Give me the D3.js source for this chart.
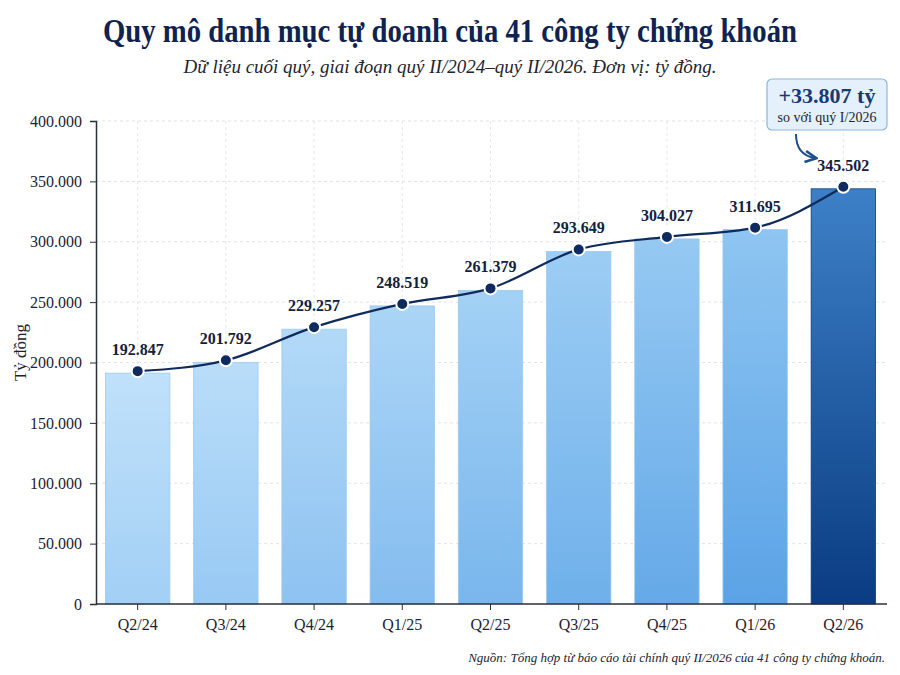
<!DOCTYPE html>
<html>
<head>
<meta charset="utf-8">
<script src="https://cdn.jsdelivr.net/npm/d3@7"></script>
<style>
  body { margin: 0; background: #fff; }
  svg { display: block; }
</style>
</head>
<body>
<svg id="chart" width="900" height="675"></svg>
<script>
const quarters = ["Q2/24", "Q3/24", "Q4/24", "Q1/25", "Q2/25", "Q3/25", "Q4/25", "Q1/26", "Q2/26"];
const portfolio = [192847, 201792, 229257, 248519, 261379, 293649, 304027, 311695, 345502];
const yTicks = [0, 50000, 100000, 150000, 200000, 250000, 300000, 350000, 400000];
const changeLabel = "+33.807 tỷ";
const changeNote = "so với quý I/2026";

const plotLeft = 96, plotRight = 887, plotTop = 121, plotBottom = 604;
const serif = "'Liberation Serif', 'DejaVu Serif', serif";
const navy = "#0f2350";

// 192.847 style
const fmt = v => d3.format(",")(v).replace(/,/g, ".");

const svg = d3.select("#chart");
const defs = svg.append("defs");

const x = d3.scaleBand()
  .domain(quarters)
  .range([94, plotRight])
  .paddingInner(0.27)
  .paddingOuter(0.13);

const y = d3.scaleLinear()
  .domain([0, 400000])
  .range([plotBottom, plotTop]);

// light -> mid blue for the older quarters, dark for the last one
const shadeTop = d3.scaleLinear()
  .domain([0, quarters.length - 2])
  .range(["#c0e1fa", "#8ec5f1"]);
const shadeBottom = d3.scaleLinear()
  .domain([0, quarters.length - 2])
  .range(["#a2cff5", "#5ba3e6"]);

quarters.forEach((q, i) => {
  const last = i === quarters.length - 1;
  const g = defs.append("linearGradient")
    .attr("id", "bar" + i)
    .attr("x1", 0).attr("y1", 0).attr("x2", 0).attr("y2", 1);
  g.append("stop").attr("offset", "0%").attr("stop-color", last ? "#3d80c7" : shadeTop(i));
  g.append("stop").attr("offset", "100%").attr("stop-color", last ? "#0a3c82" : shadeBottom(i));
});

// grid
svg.append("g")
  .selectAll("line")
  .data(yTicks.slice(1))
  .join("line")
  .attr("x1", plotLeft).attr("x2", plotRight)
  .attr("y1", d => y(d)).attr("y2", d => y(d))
  .attr("stroke", "#dfe3ea")
  .attr("stroke-dasharray", "3,3");

svg.append("g")
  .selectAll("line")
  .data(quarters)
  .join("line")
  .attr("x1", d => x(d) + x.bandwidth() / 2)
  .attr("x2", d => x(d) + x.bandwidth() / 2)
  .attr("y1", plotTop).attr("y2", plotBottom)
  .attr("stroke", "#e4e7ed")
  .attr("stroke-dasharray", "3,3");

// bars
svg.append("g")
  .selectAll("rect")
  .data(portfolio)
  .join("rect")
  .attr("x", (d, i) => x(quarters[i]))
  .attr("y", d => y(d) + 2)
  .attr("width", x.bandwidth())
  .attr("height", d => plotBottom - y(d) - 2)
  .attr("fill", (d, i) => `url(#bar${i})`)
  .attr("stroke", (d, i) => i === quarters.length - 1 ? "#0c3d7c" : "#9cc9ee")
  .attr("stroke-width", 0.8);

// axes
const yAxis = svg.append("g")
  .attr("transform", `translate(${plotLeft},0)`)
  .call(d3.axisLeft(y).tickValues(yTicks).tickFormat(fmt).tickSize(6).tickPadding(8));
yAxis.select(".domain").attr("stroke", "#2b2f3a").attr("stroke-width", 1.5);
yAxis.selectAll(".tick line").attr("stroke", "#2b2f3a");
yAxis.selectAll("text")
  .attr("font-family", serif)
  .attr("font-size", 16)
  .attr("fill", "#1d2230");

const xAxis = svg.append("g")
  .attr("transform", `translate(0,${plotBottom})`)
  .call(d3.axisBottom(x).tickSize(6).tickPadding(9).tickSizeOuter(0));
xAxis.select(".domain").attr("stroke", "#2b2f3a").attr("stroke-width", 1.5)
  .attr("d", `M${plotLeft},0H${plotRight}`);
xAxis.selectAll(".tick line").attr("stroke", "#2b2f3a");
xAxis.selectAll("text")
  .attr("font-family", serif)
  .attr("font-size", 16)
  .attr("fill", "#1d2230");

svg.append("text")
  .attr("transform", `translate(26,${(plotTop + plotBottom) / 2 - 10}) rotate(-90)`)
  .attr("text-anchor", "middle")
  .attr("font-family", serif)
  .attr("font-size", 17)
  .attr("fill", "#1d2230")
  .text("Tỷ đồng");

// line + dots
const cx = i => x(quarters[i]) + x.bandwidth() / 2;
const line = d3.line()
  .x((d, i) => cx(i))
  .y(d => y(d))
  .curve(d3.curveMonotoneX);

svg.append("path")
  .datum(portfolio)
  .attr("d", line)
  .attr("fill", "none")
  .attr("stroke", "#112a5c")
  .attr("stroke-width", 2.2);

svg.append("g")
  .selectAll("circle")
  .data(portfolio)
  .join("circle")
  .attr("cx", (d, i) => cx(i))
  .attr("cy", d => y(d))
  .attr("r", 6)
  .attr("fill", "#0e2a5e")
  .attr("stroke", "#fff")
  .attr("stroke-width", 2);

svg.append("g")
  .selectAll("text")
  .data(portfolio)
  .join("text")
  .attr("x", (d, i) => cx(i))
  .attr("y", d => y(d) - 16)
  .attr("text-anchor", "middle")
  .attr("font-family", serif)
  .attr("font-weight", "bold")
  .attr("font-size", 16)
  .attr("fill", "#14213d")
  .text(fmt);

// title
svg.append("text")
  .attr("x", 450).attr("y", 42)
  .attr("text-anchor", "middle")
  .attr("font-family", serif)
  .attr("font-weight", "bold")
  .attr("font-size", 33)
  .attr("textLength", 694)
  .attr("lengthAdjust", "spacingAndGlyphs")
  .attr("fill", navy)
  .text("Quy mô danh mục tự doanh của 41 công ty chứng khoán");

svg.append("text")
  .attr("x", 450).attr("y", 73)
  .attr("text-anchor", "middle")
  .attr("font-family", serif)
  .attr("font-style", "italic")
  .attr("font-size", 19)
  .attr("fill", "#22252e")
  .text("Dữ liệu cuối quý, giai đoạn quý II/2024–quý II/2026. Đơn vị: tỷ đồng.");

// annotation box
const ann = svg.append("g");
ann.append("rect")
  .attr("x", 767).attr("y", 79)
  .attr("width", 120).attr("height", 51)
  .attr("rx", 5)
  .attr("fill", "#e4f0fb")
  .attr("stroke", "#8fb6dc")
  .attr("stroke-width", 1.2);
ann.append("text")
  .attr("x", 827).attr("y", 103)
  .attr("text-anchor", "middle")
  .attr("font-family", serif)
  .attr("font-weight", "bold")
  .attr("font-size", 22)
  .attr("fill", "#163a74")
  .text(changeLabel);
ann.append("text")
  .attr("x", 827).attr("y", 122)
  .attr("text-anchor", "middle")
  .attr("font-family", serif)
  .attr("font-size", 14)
  .attr("fill", "#22252e")
  .text(changeNote);

defs.append("marker")
  .attr("id", "arrow")
  .attr("viewBox", "0 0 10 10")
  .attr("refX", 8).attr("refY", 5)
  .attr("markerWidth", 7).attr("markerHeight", 7)
  .attr("orient", "auto")
  .append("path")
  .attr("d", "M1,1 L9,5 L1,9")
  .attr("fill", "none")
  .attr("stroke", "#1c4f8c")
  .attr("stroke-width", 1.8);

ann.append("path")
  .attr("d", "M796,134 C796,148 802,156 815,158")
  .attr("fill", "none")
  .attr("stroke", "#1c4f8c")
  .attr("stroke-width", 2)
  .attr("marker-end", "url(#arrow)");

// source
svg.append("text")
  .attr("x", 885).attr("y", 662)
  .attr("text-anchor", "end")
  .attr("font-family", serif)
  .attr("font-style", "italic")
  .attr("font-size", 13)
  .attr("fill", "#22252e")
  .text("Nguồn: Tổng hợp từ báo cáo tài chính quý II/2026 của 41 công ty chứng khoán.");
</script>
</body>
</html>
